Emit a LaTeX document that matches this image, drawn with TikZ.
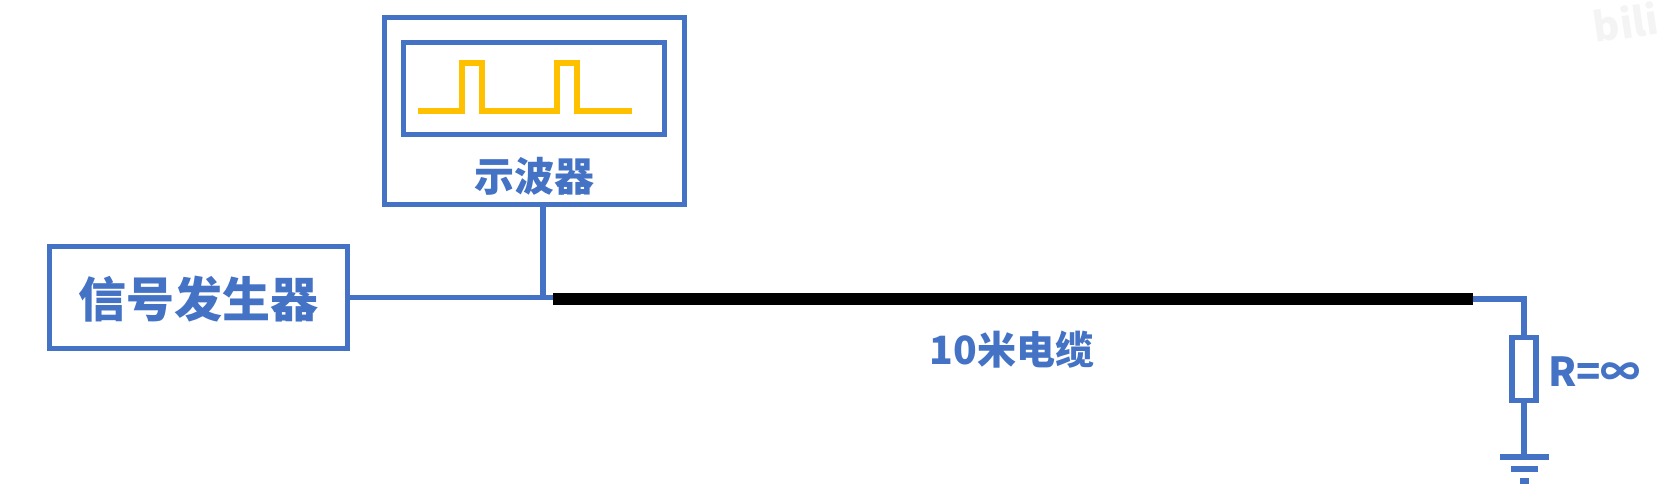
\documentclass[tikz,border=0pt]{standalone}
\usepackage{xcolor}
\usepackage{fontspec}
\setmainfont{Noto Sans CJK SC}
\usepackage{tikz}
\usetikzlibrary{positioning}
\definecolor{wire}{HTML}{4472C4}
\definecolor{pulse}{HTML}{FFC000}
\definecolor{mark}{HTML}{F4F4F4}
\begin{document}
\begin{tikzpicture}[x=0.5pt,y=-0.5pt,every node/.style={font=\bfseries,text=wire,align=center,outer sep=0pt,inner sep=0pt},box/.style={draw=wire,fill=white,line width=2.7pt},bar/.style={fill=wire,minimum height=3pt},lead/.style={draw=wire,line width=2.7pt}]
\useasboundingbox (0,0) rectangle (1664,495);
\node[text=mark,font=\bfseries\fontsize{20}{20}\selectfont,rotate=8] (logo) at (1626,22) {bili};
\node[box,minimum width=149pt,minimum height=51pt] (gen) at (198.5,297.7) {};
\node[font=\bfseries\fontsize{24}{24}\selectfont,yshift=-0.5pt] (genlabel) at (gen) {信号发生器};
\node[box,minimum width=150pt,minimum height=93.5pt] (scope) at (534.5,111.25) {};
\node[box,minimum width=130.5pt,minimum height=46pt] (screen) at (534,88.5) {};
\node[font=\bfseries\fontsize{20}{20}\selectfont,below=11.5pt of screen] (scopelabel) {示波器};
\draw[pulse,line width=2.7pt] (418,111)--(462,111)--(462,63)--(482,63)--(482,111)--(557,111)--(557,63)--(577,63)--(577,111)--(632,111);
\coordinate (tee) at (543,297.7);
\coordinate (cablein) at (553,299);
\coordinate (cableout) at (1473,299);
\node[font=\bfseries\fontsize{19.5}{19.5}\selectfont] (cablelabel) at (1012,350) {10米电缆};
\node[box,minimum width=12pt,minimum height=31.5pt] (res) at (1524,369) {};
\node[font=\bfseries\fontsize{20}{20}\selectfont,right=6pt of res,yshift=-1.5pt] (reslabel) {R=∞};
\node[bar,minimum width=24.5pt] (gnd) at (1524,457) {};
\node[bar,minimum width=13.5pt,below=3pt of gnd] (gndmid) {};
\node[bar,minimum width=4.5pt,below=3pt of gndmid] (gndlow) {};
\draw[lead] (gen.east)--(gen.east-|cablein);
\draw[lead] (scope.south-|tee)--(tee);
\draw[line width=6pt] (cablein)--(cableout);
\draw[lead] (cableout)-|(res.north);
\draw[lead] (res.south)--(gnd.north);
\end{tikzpicture}
\end{document}
